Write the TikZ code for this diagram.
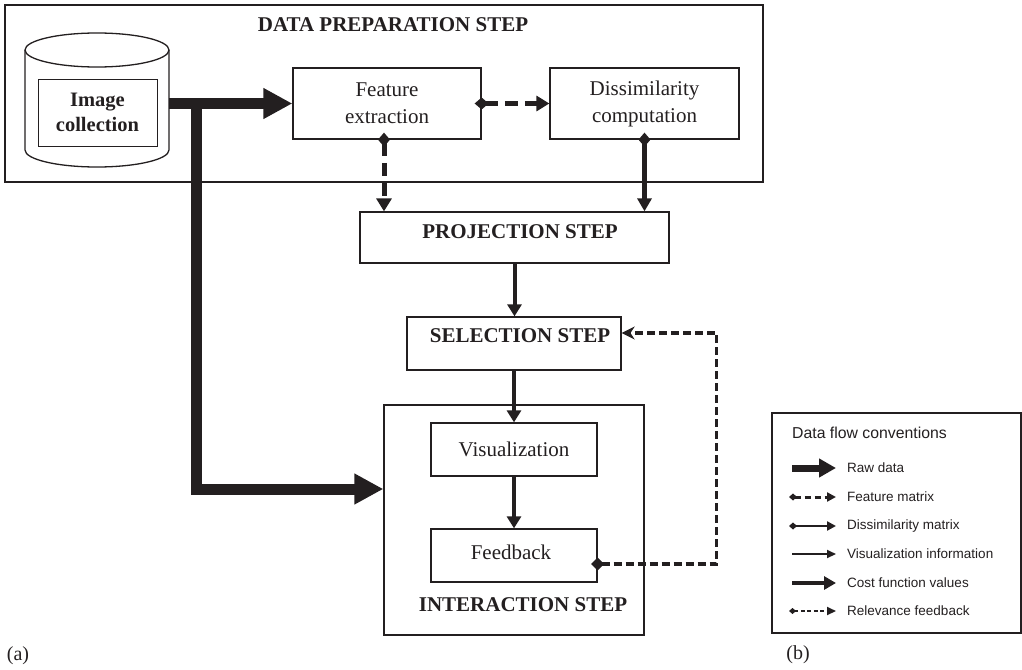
\documentclass[tikz,border=0pt]{standalone}
\usepackage{fontspec}
\setmainfont{Liberation Serif}
\newfontfamily\legendfont{Liberation Sans}
\usetikzlibrary{arrows.meta}
\definecolor{ink}{RGB}{35,31,32}
\begin{document}
\begin{tikzpicture}[x=1pt,y=-1pt,
  box/.style={draw=ink, line width=1.3pt, inner sep=0pt},
  lbl/.style={font=\fontsize{21}{27}\selectfont, text=ink, align=center, inner sep=0pt},
  blbl/.style={font=\bfseries\fontsize{21}{27}\selectfont, text=ink, align=center, inner sep=0pt},
  rawflow/.style={draw=ink, line width=11pt, line join=miter, -{Triangle[length=29pt,width=29pt]}},
  featflow/.style={draw=ink, line width=5pt, dash pattern=on 13pt off 7pt,
    {Diamond[length=14pt,width=12pt]}-{Triangle[length=13pt,width=15pt]}},
  dissflow/.style={draw=ink, line width=4.5pt,
    {Diamond[length=14pt,width=12pt]}-{Triangle[length=13pt,width=14pt]}},
  visflow/.style={draw=ink, line width=4pt, -{Triangle[length=12pt,width=14pt]}},
  relflow/.style={draw=ink, line width=3.5pt, dash pattern=on 8pt off 4pt, line join=miter,
    {Diamond[length=13pt,width=13pt]}-{Stealth[length=13pt,width=13pt]}},
  legtext/.style={font=\legendfont\fontsize{13.5}{16}\selectfont, text=ink, anchor=west, inner sep=0pt},
  lrawflow/.style={draw=ink, line width=7pt, -{Triangle[length=17pt,width=18pt]}},
  lfeatflow/.style={draw=ink, line width=3pt, dash pattern=on 6pt off 4pt,
    {Diamond[length=8pt,width=7pt]}-{Triangle[length=9pt,width=9pt]}},
  ldissflow/.style={draw=ink, line width=2.5pt,
    {Diamond[length=8pt,width=7pt]}-{Triangle[length=9pt,width=9pt]}},
  lvisflow/.style={draw=ink, line width=2pt, -{Triangle[length=9pt,width=8pt]}},
  lcostflow/.style={draw=ink, line width=4pt, -{Triangle[length=12pt,width=13pt]}},
  lrelflow/.style={draw=ink, line width=2pt, dash pattern=on 4pt off 2.5pt,
    {Diamond[length=7pt,width=6pt]}-{Triangle[length=9pt,width=8pt]}}
]
\useasboundingbox (0,0) rectangle (1022,669);

% ---------- data preparation step ----------
\node[box, minimum width=758pt, minimum height=177pt] (prep) at (384,93.5) {};
\node[blbl] (preptitle) at (393,25) {DATA PREPARATION STEP};

% cylinder
\draw[ink, line width=1.3pt] (25,50) -- (25,150)
  arc[start angle=180, end angle=360, x radius=72pt, y radius=17pt] -- (169,50);
\draw[ink, line width=1.3pt] (97,50) ellipse[x radius=72pt, y radius=17pt];
\node[inner sep=0pt, minimum width=144pt, minimum height=134pt] (cyl) at (97,100) {};
\node[box, line width=1pt, minimum width=119pt, minimum height=67pt,
  font=\bfseries\fontsize{20.5}{25}\selectfont, text=ink, align=center] (imgcol) at (97.5,112.5) {Image\\collection};

\node[box, minimum width=188pt, minimum height=71pt, lbl] (fe) at (387,103.5) {Feature\\extraction};
\node[box, minimum width=189pt, minimum height=71pt, lbl] (dc) at (644.5,103.5) {Dissimilarity\\computation};

% ---------- projection / selection ----------
\node[box, minimum width=309pt, minimum height=51pt] (proj) at (514.5,237.5) {};
\node[blbl] (projtxt) at (520,232) {PROJECTION STEP};
\node[box, minimum width=214pt, minimum height=53pt] (sel) at (514,343.5) {};
\node[blbl] (seltxt) at (520,336) {SELECTION STEP};

% ---------- interaction step ----------
\node[box, minimum width=260pt, minimum height=230pt] (inter) at (514,520) {};
\node[box, minimum width=166pt, minimum height=53pt, lbl] (vis) at (514,449.5) {Visualization};
\node[box, minimum width=166pt, minimum height=53pt] (fb) at (514,555.5) {};
\node[lbl] (fbtxt) at (511,552) {Feedback};
\node[blbl] (intertxt) at (523,605) {INTERACTION STEP};

% ---------- connectors ----------
\draw[rawflow] ([xshift=27pt]cyl.east |- fe.west) |- ([yshift=31pt]inter.west);
\draw[rawflow] (cyl.east |- fe.west) -- (fe.west);
\draw[featflow] ([xshift=-7pt]fe.east) -- (dc.west);
\draw[featflow] ([xshift=-3pt,yshift=7pt]fe.south) -- ([xshift=-3pt]fe.south |- proj.north);
\draw[dissflow] ([yshift=7pt]dc.south) -- (dc.south |- proj.north);
\draw[visflow] (proj.south) -- (proj.south |- sel.north);
\draw[visflow] (sel.south) -- (vis.north);
\draw[visflow] (vis.south) -- (fb.north);
\draw[relflow] ([xshift=-6.5pt,yshift=-8.5pt]fb.east) -- ++(125.5,0) |- ([yshift=10.5pt]sel.east);

% ---------- legend ----------
\node[box, line width=1.8pt, minimum width=249pt, minimum height=220pt] (legend) at (896.5,523) {};
\node[font=\legendfont\fontsize{15.8}{19}\selectfont, text=ink, anchor=west, inner sep=0pt] (legtitle) at (792,433) {Data flow conventions};

\coordinate (l1a) at (792,468); \coordinate (l1b) at (836,468);
\coordinate (l2a) at (789,497); \coordinate (l2b) at (836,497);
\coordinate (l3a) at (789,526); \coordinate (l3b) at (836,526);
\coordinate (l4a) at (792,554); \coordinate (l4b) at (836,554);
\coordinate (l5a) at (792,583); \coordinate (l5b) at (836,583);
\coordinate (l6a) at (789,611); \coordinate (l6b) at (836,611);
\draw[lrawflow] (l1a) -- (l1b);
\draw[lfeatflow] (l2a) -- (l2b);
\draw[ldissflow] (l3a) -- (l3b);
\draw[lvisflow] (l4a) -- (l4b);
\draw[lcostflow] (l5a) -- (l5b);
\draw[lrelflow] (l6a) -- (l6b);
\node[legtext] (t1) at (847,468) {Raw data};
\node[legtext] (t2) at (847,497) {Feature matrix};
\node[legtext] (t3) at (847,526) {Dissimilarity matrix};
\node[legtext] (t4) at (847,554) {Visualization information};
\node[legtext] (t5) at (847,583) {Cost function values};
\node[legtext] (t6) at (847,611) {Relevance feedback};

% ---------- panel labels ----------
\node[font=\fontsize{20}{24}\selectfont, text=ink, inner sep=0pt] (pa) at (18,656) {(a)};
\node[font=\fontsize{20}{24}\selectfont, text=ink, inner sep=0pt] (pb) at (798,655) {(b)};
\end{tikzpicture}
\end{document}
